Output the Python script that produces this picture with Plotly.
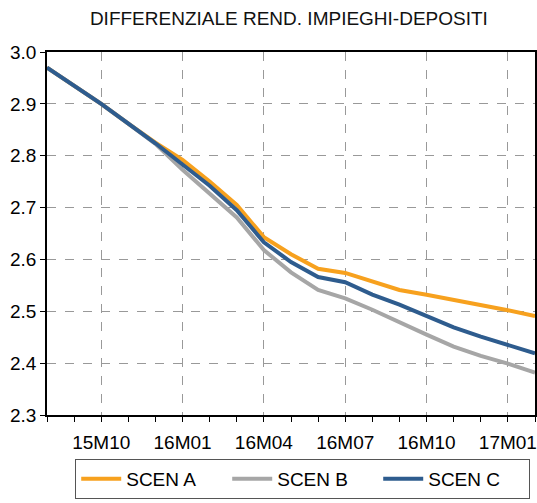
import plotly.graph_objects as go

months = ["15M08", "15M09", "15M10", "15M11", "15M12", "16M01", "16M02", "16M03",
          "16M04", "16M05", "16M06", "16M07", "16M08", "16M09", "16M10", "16M11",
          "16M12", "17M01", "17M02"]
scen_a = [2.970, 2.935, 2.900, 2.862, 2.825, 2.792, 2.750, 2.705, 2.643, 2.610,
          2.582, 2.574, 2.557, 2.541, 2.532, 2.522, 2.513, 2.502, 2.491]
scen_b = [2.970, 2.935, 2.900, 2.862, 2.823, 2.773, 2.728, 2.681, 2.618, 2.575,
          2.541, 2.525, 2.503, 2.478, 2.455, 2.432, 2.414, 2.399, 2.382]
scen_c = [2.970, 2.935, 2.900, 2.862, 2.824, 2.783, 2.742, 2.695, 2.633, 2.595,
          2.566, 2.556, 2.532, 2.513, 2.491, 2.469, 2.451, 2.434, 2.419]
tick_labels = ["15M10", "16M01", "16M04", "16M07", "16M10", "17M01"]
y_ticks = [2.3, 2.4, 2.5, 2.6, 2.7, 2.8, 2.9, 3.0]

x = list(range(len(months)))
tickvals = [months.index(t) for t in tick_labels]

fig = go.Figure()
series = [("SCEN A", scen_a, "#F7A11E"), ("SCEN B", scen_b, "#A6A6A6"), ("SCEN C", scen_c, "#2E5C8E")]
for name, vals, col in series:
    fig.add_trace(go.Scatter(x=x, y=vals, mode="lines", name=name,
                             line=dict(color=col, width=4)))

fig.update_layout(
    width=537, height=503,
    margin=dict(l=47, r=2, t=52, b=88),
    paper_bgcolor="white", plot_bgcolor="white",
    font=dict(family="Liberation Sans, Arial, sans-serif", color="black"),
    title=dict(text="DIFFERENZIALE REND. IMPIEGHI-DEPOSITI", x=0.538, xanchor="center",
               y=0.963, yanchor="middle", font=dict(size=19, color="#111111")),
    showlegend=True,
    legend=dict(orientation="h", x=0.524, xanchor="center", yref="container",
                y=0.008, yanchor="bottom",
                bordercolor="#555555", borderwidth=1, font=dict(size=19),
                itemwidth=40, entrywidth=96, traceorder="normal", tracegroupgap=0),
    xaxis=dict(range=[0, len(months) - 1], tickvals=tickvals, ticktext=tick_labels,
               showgrid=True, gridcolor="#999999", griddash="dash", gridwidth=1,
               ticks="outside", ticklen=5, tickcolor="black", ticklabelstandoff=4,
               minor=dict(dtick=1, ticks="outside", ticklen=5, tickcolor="black", showgrid=False),
               showline=True, linecolor="black", linewidth=1.5, mirror=True,
               tickfont=dict(size=19), zeroline=False, automargin=False),
    yaxis=dict(range=[2.3, 3.0], tickvals=y_ticks, ticktext=[f"{v:.1f}" for v in y_ticks],
               showgrid=True, gridcolor="#999999", griddash="dash", gridwidth=1,
               ticks="outside", ticklen=5, tickcolor="black",
               showline=True, linecolor="black", linewidth=1.5, mirror=True,
               tickfont=dict(size=19), zeroline=False, automargin=False),
)

fig.write_html("out.html", config={"displayModeBar": False},
               post_script="document.body.style.margin='0';document.body.style.overflow='hidden';")
